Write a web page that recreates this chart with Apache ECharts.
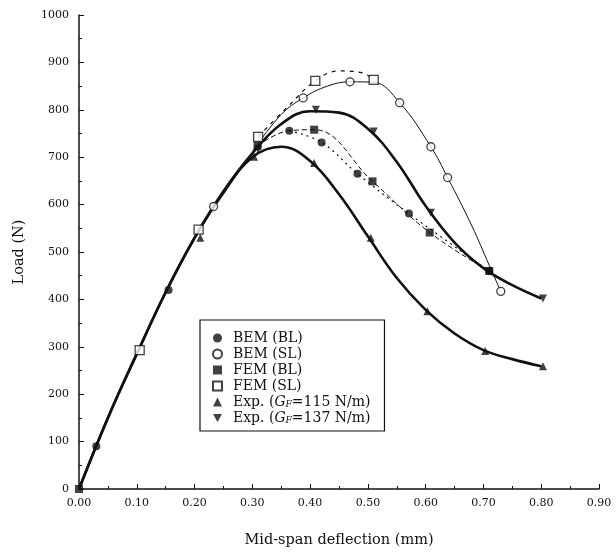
<!DOCTYPE html>
<html>
<head>
<meta charset="utf-8">
<script src="https://cdn.jsdelivr.net/npm/echarts@6/dist/echarts.min.js"></script>
<style>html,body{margin:0;padding:0;background:#fff}#c{width:616px;height:553px}</style>
</head>
<body>
<div id="c"></div>
<script>
// ---- data ----
const seriesNames = ['BEM (BL)', 'BEM (SL)', 'FEM (BL)', 'FEM (SL)', 'Exp. (GF=115 N/m)', 'Exp. (GF=137 N/m)'];

const bemBL = [[0.03, 90], [0.155, 420], [0.364, 756], [0.42, 731], [0.482, 665], [0.571, 581], [0.71, 460]];
const bemSL = [[0.233, 596], [0.388, 825], [0.469, 859], [0.555, 815], [0.609, 722], [0.638, 657], [0.73, 417]];
const femBL = [[0, 0], [0.309, 724], [0.407, 758], [0.508, 649], [0.607, 541], [0.71, 460]];
const femSL = [[0.105, 293], [0.207, 547], [0.31, 743], [0.409, 861], [0.51, 863]];
const exp115 = [[0.21, 530], [0.303, 701], [0.407, 688], [0.505, 530], [0.603, 375], [0.703, 291], [0.803, 259]];
const exp137 = [[0.31, 716], [0.41, 800], [0.51, 754], [0.609, 583], [0.709, 459], [0.803, 402]];

// curve traces
const curve115 = [[0, 0], [0.05, 150], [0.10, 285], [0.15, 415], [0.20, 530], [0.25, 625], [0.30, 700], [0.35, 722], [0.40, 692], [0.45, 622], [0.50, 533], [0.55, 445], [0.60, 378], [0.65, 328], [0.70, 293], [0.75, 274], [0.80, 259]];
const curve137 = [[0, 0], [0.05, 150], [0.10, 285], [0.15, 415], [0.20, 530], [0.25, 628], [0.30, 708], [0.35, 770], [0.40, 797], [0.45, 794], [0.50, 760], [0.55, 690], [0.60, 597], [0.65, 520], [0.70, 466], [0.75, 430], [0.80, 402]];
const curveBemBL = [[0.364, 756], [0.42, 731], [0.482, 665], [0.571, 581], [0.71, 460]];
const curveFemBL = [[0.309, 724], [0.364, 756], [0.407, 758], [0.508, 649], [0.607, 541], [0.71, 460]];
const curveBemSL = [[0.30, 712], [0.35, 790], [0.388, 825], [0.43, 850], [0.469, 859], [0.51, 858], [0.555, 815], [0.609, 722], [0.638, 657], [0.68, 555], [0.71, 472], [0.73, 417]];
const curveFemSL = [[0.31, 743], [0.36, 805], [0.409, 861], [0.45, 882], [0.49, 878], [0.51, 863]];

const xTickLabels = ['0.00', '0.10', '0.20', '0.30', '0.40', '0.50', '0.60', '0.70', '0.80', '0.90'];
const yTickLabels = ['0', '100', '200', '300', '400', '500', '600', '700', '800', '900', '1000'];

// ---- chart ----
const FONT = 'DejaVu Serif';
const chart = echarts.init(document.getElementById('c'), null, {renderer: 'canvas'});

function lineSeries(data, width, type) {
  return {type: 'line', data: data, smooth: 0.4, showSymbol: false, symbol: 'none', silent: true,
    lineStyle: {color: '#111', width: width, type: type}, z: 2};
}
function markSeries(name, data, symbol, size, filled) {
  return {type: 'scatter', name: name, data: data, symbol: symbol, symbolSize: size, z: 5,
    itemStyle: {color: filled ? '#111' : '#fff', borderColor: '#111', borderWidth: filled ? 0 : 1.3}};
}

const LFS = 14;
const legendRich = {
  n: {fontFamily: FONT, fontSize: LFS, color: '#111'},
  i: {fontFamily: FONT, fontSize: LFS, fontStyle: 'italic', color: '#111'},
  s: {fontFamily: FONT, fontSize: 9, fontStyle: 'italic', color: '#111', verticalAlign: 'bottom', padding: [5, 0, 0, 0]}
};

chart.setOption({
  animation: false,
  backgroundColor: '#fff',
  grid: {left: 79, right: 17, top: 15, bottom: 63},
  xAxis: {
    type: 'value', min: 0, max: 0.9, interval: 0.1,
    name: 'Mid-span deflection (mm)', nameLocation: 'middle', nameGap: 44,
    nameTextStyle: {fontFamily: FONT, fontSize: 14.5, color: '#111'},
    axisLine: {lineStyle: {color: '#111', width: 1.5}},
    axisTick: {inside: true, length: 5, lineStyle: {color: '#111'}},
    minorTick: {show: true, splitNumber: 2, length: 3, lineStyle: {color: '#111'}},
    splitLine: {show: false},
    axisLabel: {fontFamily: FONT, fontSize: 11, color: '#111', margin: 9,
      formatter: function (v) { return xTickLabels[Math.round(v * 10)]; }}
  },
  yAxis: {
    type: 'value', min: 0, max: 1000, interval: 100,
    name: 'Load (N)', nameLocation: 'middle', nameGap: 52, nameRotate: 90,
    nameTextStyle: {fontFamily: FONT, fontSize: 14.5, color: '#111'},
    axisLine: {show: true, lineStyle: {color: '#111', width: 1.5}},
    axisTick: {show: true, inside: true, length: 5, lineStyle: {color: '#111'}},
    minorTick: {show: true, splitNumber: 2, length: 3, lineStyle: {color: '#111'}},
    splitLine: {show: false},
    axisLabel: {fontFamily: FONT, fontSize: 11, color: '#111', margin: 10,
      formatter: function (v) { return yTickLabels[Math.round(v / 100)]; }}
  },
  legend: {
    orient: 'vertical', left: 200, top: 320,
    padding: [11, 14, 6, 12], itemGap: 2, itemWidth: 9, itemHeight: 9,
    borderColor: '#111', borderWidth: 1.2, backgroundColor: '#fff',
    data: seriesNames,
    textStyle: {fontFamily: FONT, fontSize: LFS, color: '#111', rich: legendRich, padding: [0, 0, 0, 6]},
    formatter: function (name) {
      if (name.indexOf('GF=') >= 0) {
        const rest = name.split('GF')[1];
        return '{n|Exp. (}{i|G}{s|F}{n|' + rest + '}';
      }
      return '{n|' + name + '}';
    }
  },
  series: [
    lineSeries(curve115, 2.6, 'solid'),
    lineSeries(curve137, 2.6, 'solid'),
    lineSeries(curveBemSL, 1, 'solid'),
    lineSeries(curveFemSL, 1.2, [4, 5]),
    lineSeries(curveBemBL, 1.2, [2, 4]),
    lineSeries(curveFemBL, 1, [5, 3]),
    markSeries(seriesNames[0], bemBL, 'circle', 8, true),
    markSeries(seriesNames[1], bemSL, 'circle', 8, false),
    markSeries(seriesNames[2], femBL, 'rect', 8, true),
    markSeries(seriesNames[3], femSL, 'rect', 9, false),
    markSeries(seriesNames[4], exp115, 'triangle', 8, true),
    markSeries(seriesNames[5], exp137, 'path://M0,0 L10,0 L5,9 Z', 8, true)
  ]
});
</script>
</body>
</html>
